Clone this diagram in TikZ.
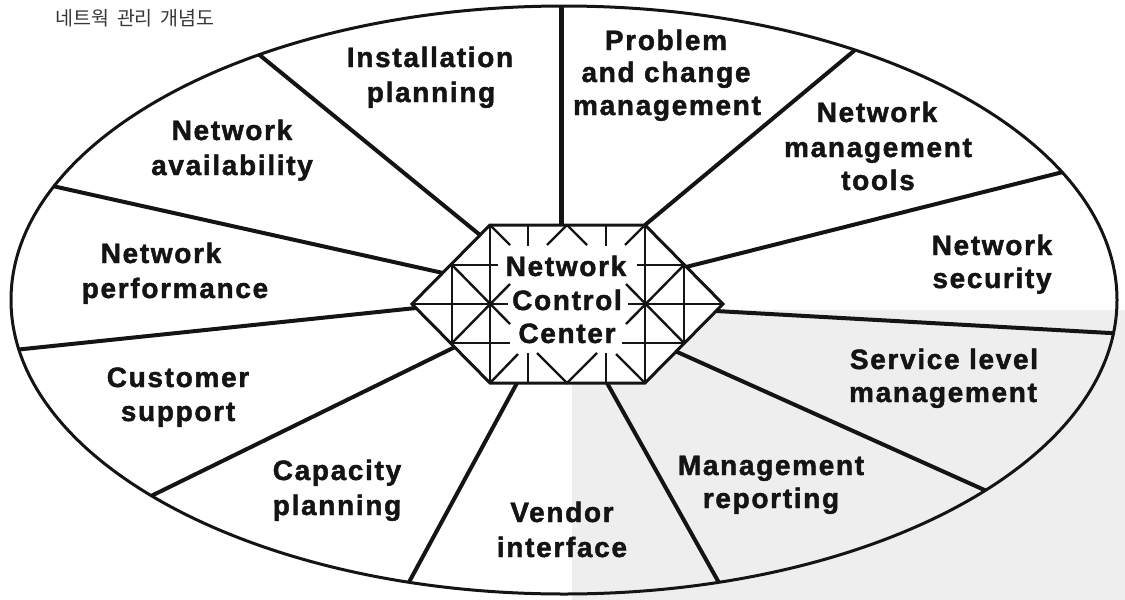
\documentclass[tikz,border=0pt]{standalone}
\usepackage{fontspec}
\newfontfamily\lab{Liberation Sans Bold}[LetterSpace=6, FakeBold=1.6]
\newfontfamily\cjk{Noto Sans CJK KR}
\usetikzlibrary{calc}
\definecolor{scan}{RGB}{238,238,238}
\definecolor{ink}{RGB}{20,20,20}
\begin{document}
\begin{tikzpicture}[x=1pt,y=-1pt,
  lbl/.style={font=\lab\fontsize{28}{34}\selectfont, inner sep=0pt, anchor=base, text=ink},
  spoke/.style={line width=4pt, draw=ink},
  lat/.style={line width=2.4pt, draw=ink},
  hexline/.style={line width=3pt, draw=ink, line join=miter}]
\useasboundingbox (0,0) rectangle (1125,600);
\fill[scan] (572,310) rectangle (1125,600);

% title
\node[font=\cjk\fontsize{19.5}{21}\selectfont, anchor=base west, inner sep=0pt, text=ink!85] (title) at (55,25) {네트웍\hspace{8pt}관리\hspace{8pt}개념도};

% hexagon corners
\coordinate (A) at (490,225);
\coordinate (B) at (645,225);
\coordinate (C) at (723,304);
\coordinate (D) at (645,383);
\coordinate (E) at (490,383);
\coordinate (F) at (412,304);

% spoke ends
\coordinate (h1) at (561,225);  \coordinate (e1) at (561,6);
\coordinate (h2) at (480,235);  \coordinate (e2) at (262,57);
\coordinate (h3) at (443,273);  \coordinate (e3) at (57,187);
\coordinate (h4) at (416,308);  \coordinate (e4) at (14,350);
\coordinate (h5) at (455,347);  \coordinate (e5) at (147,498);
\coordinate (h6) at (517,383);  \coordinate (e6) at (408,584);
\coordinate (h7) at (607,383);  \coordinate (e7) at (718,581);
\coordinate (h8) at (675,351);  \coordinate (e8) at (980,488);
\coordinate (h9) at (716,311);  \coordinate (e9) at (1110,333);
\coordinate (h10) at (686,267); \coordinate (e10) at (1063,172);
\coordinate (h11) at (645,225); \coordinate (e11) at (855,50);

\begin{scope}
  \clip (564,300) ellipse [x radius=553pt, y radius=294pt];
  \draw[spoke, line width=5pt] (h1) -- ($(h1)!1.1!(e1)$);
  \foreach \i in {2,...,11}{
    \draw[spoke] (h\i) -- ($(h\i)!1.1!(e\i)$);
  }
\end{scope}
\draw[line width=3pt, draw=ink] (564,300) ellipse [x radius=553pt, y radius=294pt];

% hexagon
\filldraw[hexline, fill=white] (A) -- (B) -- (C) -- (D) -- (E) -- (F) -- cycle;

% lattice
\draw[lat] (490,225) -- (490,383);
\draw[lat] (645,225) -- (645,383);
\draw[lat] (452,264) -- (452,344);
\draw[lat] (684,264) -- (684,344);
% horizontals
\draw[lat] (412,304) -- (508,304);
\draw[lat] (628,304) -- (723,304);
\draw[lat] (452,265) -- (498,265);
\draw[lat] (637,265) -- (684,265);
\draw[lat] (452,343) -- (510,343);
\draw[lat] (622,343) -- (684,343);
% X left / right
\draw[lat] (452,265) -- (510,324);
\draw[lat] (452,343) -- (510,284);
\draw[lat] (684,265) -- (626,324);
\draw[lat] (684,343) -- (626,284);
% top ticks
\draw[lat] (490,225) -- (510,245);
\draw[lat] (528,225) -- (528,246);
\draw[lat] (567,225) -- (547,245);
\draw[lat] (567,225) -- (587,245);
\draw[lat] (606,225) -- (606,246);
\draw[lat] (645,225) -- (625,245);
% bottom ticks
\draw[lat] (490,383) -- (518,354);
\draw[lat] (528,383) -- (528,353);
\draw[lat] (537,353) -- (567,383) -- (597,353);
\draw[lat] (606,383) -- (606,353);
\draw[lat] (616,354) -- (645,383);

% labels
\node[lbl] (ncc1) at (566,276) {Network};
\node[lbl] (ncc2) at (567,310) {Control};
\node[lbl] (ncc3) at (567,343) {Center};

\node[lbl] (inst1) at (430,67) {Installation};
\node[lbl] (inst2) at (431,102) {planning};
\node[lbl] (prob1) at (666,50) {Problem};
\node[lbl] (prob2) at (666,82) {and change};
\node[lbl] (prob3) at (667,115) {management};
\node[lbl] (tool1) at (877,122) {Network};
\node[lbl] (tool2) at (878,157) {management};
\node[lbl] (tool3) at (878,190) {tools};
\node[lbl] (sec1) at (992,255) {Network};
\node[lbl] (sec2) at (992,288) {security};
\node[lbl] (svc1) at (944,369) {Service level};
\node[lbl] (svc2) at (943,402) {management};
\node[lbl] (rep1) at (771,475) {Management};
\node[lbl] (rep2) at (771,508) {reporting};
\node[lbl] (ven1) at (562,522) {Vendor};
\node[lbl] (ven2) at (562,557) {interface};
\node[lbl] (cap1) at (337,480) {Capacity};
\node[lbl] (cap2) at (337,515) {planning};
\node[lbl] (cus1) at (178,387) {Customer};
\node[lbl] (cus2) at (178,421) {support};
\node[lbl] (perf1) at (161,263) {Network};
\node[lbl] (perf2) at (175,298) {performance};
\node[lbl] (avail1) at (232,140) {Network};
\node[lbl] (avail2) at (232,175) {availability};
\end{tikzpicture}
\end{document}
